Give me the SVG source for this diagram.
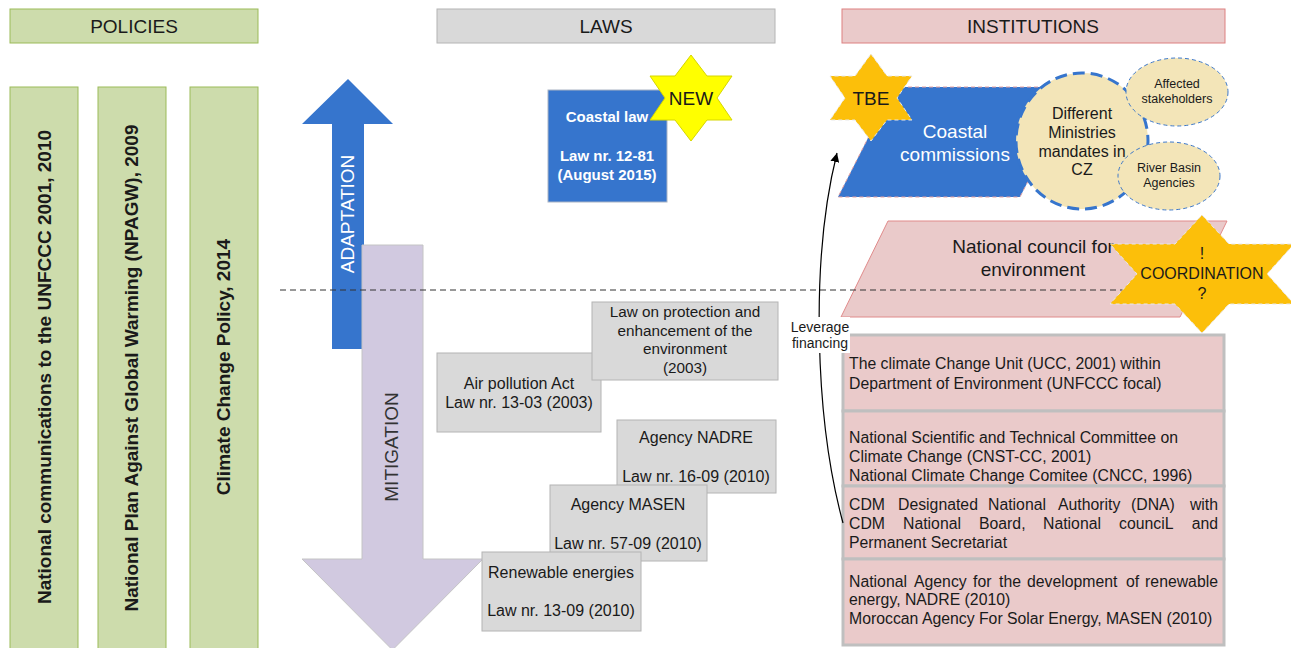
<svg xmlns="http://www.w3.org/2000/svg" width="1291" height="648" viewBox="0 0 1291 648">
<style>
text{font-family:"Liberation Sans",Arial,sans-serif;fill:#1a1a1a}
.hdr{font-size:19px;text-anchor:middle}
.pol{fill:#cddcac;stroke:#9bbb59;stroke-width:1}
.polt{font-size:19px;font-weight:bold;text-anchor:middle}
.law{fill:#d9d9d9;stroke:#b4b4b4;stroke-width:1}
.lawt{font-size:16px;text-anchor:middle}
.inst{fill:#eacaca;stroke:#bfbfbf;stroke-width:3}
.instt{font-size:15.8px}
.gold{fill:#fcbf0a;stroke:#e8e8e8;stroke-width:1;stroke-dasharray:4 3}
.beige{fill:#f3e5b8}
.small{stroke:#3d78c9;stroke-width:1;stroke-dasharray:4 3}
.mid{text-anchor:middle}
.end{text-anchor:end}
</style>
<defs>
<marker id="ah" viewBox="0 0 10 10" refX="10" refY="5" markerWidth="9" markerHeight="9" markerUnits="userSpaceOnUse" orient="auto">
<path d="M0,0 L10,5 L0,10 Z" fill="#000"/>
</marker>
</defs>

<g id="policies-header">
<rect x="10" y="9" width="248" height="34" class="pol"/>
<text x="134" y="33" class="hdr">POLICIES</text>
</g>
<g id="laws-header">
<rect x="437" y="9" width="338" height="34" class="law"/>
<text x="606" y="33" class="hdr">LAWS</text>
</g>
<g id="institutions-header">
<rect x="842" y="9" width="383" height="34" fill="#eacaca" stroke="#dd8080" stroke-width="1"/>
<text x="1033" y="33" class="hdr">INSTITUTIONS</text>
</g>

<g id="policy1">
<rect x="10" y="87" width="68" height="570" class="pol"/>
<text transform="translate(44,367) rotate(-90)" y="7" class="polt">National communications to the UNFCCC 2001, 2010</text>
</g>
<g id="policy2">
<rect x="98" y="87" width="68" height="570" class="pol"/>
<text transform="translate(131,368) rotate(-90)" y="7" class="polt">National Plan Against Global Warming (NPAGW), 2009</text>
</g>
<g id="policy3">
<rect x="190" y="87" width="68" height="570" class="pol"/>
<text transform="translate(223,367) rotate(-90)" y="7" class="polt">Climate Change Policy, 2014</text>
</g>

<g id="adaptation">
<polygon points="348,79 393,124 364,124 364,349 332,349 332,124 302,124" fill="#3675cd"/>
<text transform="translate(347,214) rotate(-90)" y="7" class="mid" style="font-size:19px;fill:#fff">ADAPTATION</text>
</g>
<g id="mitigation">
<polygon points="362,245 423,245 423,559 483,559 392.5,650 302,559 362,559" fill="#d1c9e0" stroke="#c4c4c4" stroke-width="1"/>
<text transform="translate(391,447) rotate(-90)" y="7" class="mid" style="font-size:19px;fill:#333">MITIGATION</text>
</g>

<g id="coastal-law">
<rect x="548" y="90" width="119" height="112" fill="#3675cd" stroke="#a9b4c4" stroke-width="1"/>
<text x="607" y="122" class="mid" style="font-size:15px;font-weight:bold;fill:#fff">Coastal law</text>
<text x="607" y="161" class="mid" style="font-size:15px;font-weight:bold;fill:#fff">Law nr. 12-81</text>
<text x="607" y="180" class="mid" style="font-size:15px;font-weight:bold;fill:#fff">(August 2015)</text>
</g>
<g id="new-star">
<polygon points="691,55 707,76 732,76 717,98 732,120 707,120 691,141 675,120 650,120 665,98 650,76 675,76" fill="#ffff00" stroke="#d6d600" stroke-width="1"/>
<text x="691" y="105" class="mid" style="font-size:19px">NEW</text>
</g>

<g id="law-air">
<rect x="437" y="353" width="164" height="79" class="law"/>
<text x="519" y="388.6" class="lawt">Air pollution Act</text>
<text x="519" y="407.6" class="lawt">Law nr. 13-03 (2003)</text>
</g>
<g id="law-protection">
<rect x="592" y="302" width="186" height="78" class="law"/>
<text x="685" y="317.4" class="lawt" style="font-size:15.3px">Law on protection and</text>
<text x="685" y="336.4" class="lawt" style="font-size:15.3px">enhancement of the</text>
<text x="685" y="354.4" class="lawt" style="font-size:15.3px">environment</text>
<text x="685" y="373.4" class="lawt" style="font-size:15.3px">(2003)</text>
</g>
<g id="law-nadre">
<rect x="617" y="420" width="159" height="73" class="law"/>
<text x="696" y="442.6" class="lawt">Agency NADRE</text>
<text x="696" y="481.6" class="lawt">Law nr. 16-09 (2010)</text>
</g>
<g id="law-masen">
<rect x="550" y="485" width="157" height="76" class="law"/>
<text x="628" y="509.6" class="lawt">Agency MASEN</text>
<text x="628" y="548.6" class="lawt">Law nr. 57-09 (2010)</text>
</g>
<g id="law-renewable">
<rect x="482" y="552" width="159" height="79" class="law"/>
<text x="561" y="577.6" class="lawt">Renewable energies</text>
<text x="561" y="615.6" class="lawt">Law nr. 13-09 (2010)</text>
</g>

<g id="coastal-commissions">
<polygon points="894,87 1076,87 1020,197 838,197" fill="#3675cd" stroke="#e6a0a0" stroke-width="1" stroke-dasharray="4 3"/>
<text x="955" y="137.7" class="mid" style="font-size:19px;fill:#fff">Coastal</text>
<text x="955" y="160.7" class="mid" style="font-size:19px;fill:#fff">commissions</text>
</g>
<g id="ministries">
<ellipse cx="1082" cy="141" rx="66" ry="68" class="beige" stroke="#3675cd" stroke-width="3" stroke-dasharray="12 6"/>
<text x="1082" y="118.6" class="mid" style="font-size:16px">Different</text>
<text x="1082" y="137.6" class="mid" style="font-size:16px">Ministries</text>
<text x="1082" y="156.6" class="mid" style="font-size:16px">mandates in</text>
<text x="1082" y="174.6" class="mid" style="font-size:16px">CZ</text>
</g>
<g id="stakeholders">
<ellipse cx="1177" cy="92" rx="51" ry="34" class="beige small"/>
<text x="1177" y="88.4" class="mid" style="font-size:12.5px">Affected</text>
<text x="1177" y="103.4" class="mid" style="font-size:12.5px">stakeholders</text>
</g>
<g id="river-basin">
<ellipse cx="1169" cy="176" rx="51" ry="34" class="beige small"/>
<text x="1169" y="172.4" class="mid" style="font-size:12.5px">River Basin</text>
<text x="1169" y="187.4" class="mid" style="font-size:12.5px">Agencies</text>
</g>
<g id="tbe-star">
<polygon points="871,54 887,76 912,76 897,98 912,120 887,120 871,141 855,120 830,120 845,98 830,76 855,76" class="gold"/>
<text x="871" y="105" class="mid" style="font-size:19px">TBE</text>
</g>

<g id="national-council">
<polygon points="888,221 1227,221 1180,317 841,317" fill="#eacaca" stroke="#e08a8a" stroke-width="1"/>
<text x="1033" y="252.7" class="mid" style="font-size:19px">National council for</text>
<text x="1033" y="275.7" class="mid" style="font-size:19px">environment</text>
</g>

<g id="divider">
<line x1="280" y1="290" x2="1200" y2="290" stroke="#333" stroke-width="1" stroke-dasharray="6 4"/>
</g>

<g id="coordination-star">
<polygon points="1202,215 1229,244 1294,244 1267,274 1294,304 1229,304 1202,333 1175,304 1110,304 1137,274 1110,244 1175,244" class="gold"/>
<text x="1202" y="258.6" class="mid" style="font-size:16px">!</text>
<text x="1202" y="278.6" class="mid" style="font-size:16px">COORDINATION</text>
<text x="1202" y="298.6" class="mid" style="font-size:16px">?</text>
</g>

<g id="inst-ucc">
<rect x="843" y="335" width="381" height="76" class="inst"/>
<text class="instt" x="849" y="368.5">The climate Change Unit (UCC, 2001)  within</text>
<text class="instt" x="849" y="388.5">Department of Environment (UNFCCC focal)</text>
</g>
<g id="inst-cnst">
<rect x="843" y="411" width="381" height="75" class="inst"/>
<text class="instt" x="849" y="442.5">National Scientific and Technical Committee on</text>
<text class="instt" x="849" y="461.5">Climate Change (CNST-CC, 2001)</text>
<text class="instt" x="849" y="480.5">National Climate Change Comitee (CNCC, 1996)</text>
</g>
<g id="inst-cdm">
<rect x="843" y="486" width="381" height="73" class="inst"/>
<text class="instt" y="509.5"><tspan x="849">CDM</tspan><tspan x="898">Designated</tspan><tspan x="988">National</tspan><tspan x="1058">Authority</tspan><tspan x="1131">(DNA)</tspan></text>
<text class="instt end" x="1218" y="509.5">with</text>
<text class="instt" y="528.5"><tspan x="849">CDM</tspan><tspan x="903">National</tspan><tspan x="979">Board,</tspan><tspan x="1043">National</tspan><tspan x="1119">counciL</tspan></text>
<text class="instt end" x="1218" y="528.5">and</text>
<text class="instt" x="849" y="547.5">Permanent Secretariat</text>
</g>
<g id="inst-agencies">
<rect x="843" y="559" width="381" height="86" class="inst"/>
<text class="instt" y="586.5"><tspan x="849">National</tspan><tspan x="914">Agency</tspan><tspan x="973">for</tspan><tspan x="999">the</tspan><tspan x="1027">development</tspan><tspan x="1126">of</tspan></text>
<text class="instt end" x="1218" y="586.5">renewable</text>
<text class="instt" x="849" y="604.5">energy, NADRE (2010)</text>
<text class="instt" x="849" y="623.5">Moroccan Agency For Solar Energy, MASEN (2010)</text>
</g>

<g id="connectors">
<path d="M843,523 C815,420 810,260 837,153" fill="none" stroke="#000" stroke-width="1.2" marker-end="url(#ah)"/>
<rect x="790" y="317" width="60" height="36" fill="#fff"/>
<text x="820" y="332" class="mid" style="font-size:14px">Leverage</text>
<text x="820" y="348" class="mid" style="font-size:14px">financing</text>
</g>
</svg>
